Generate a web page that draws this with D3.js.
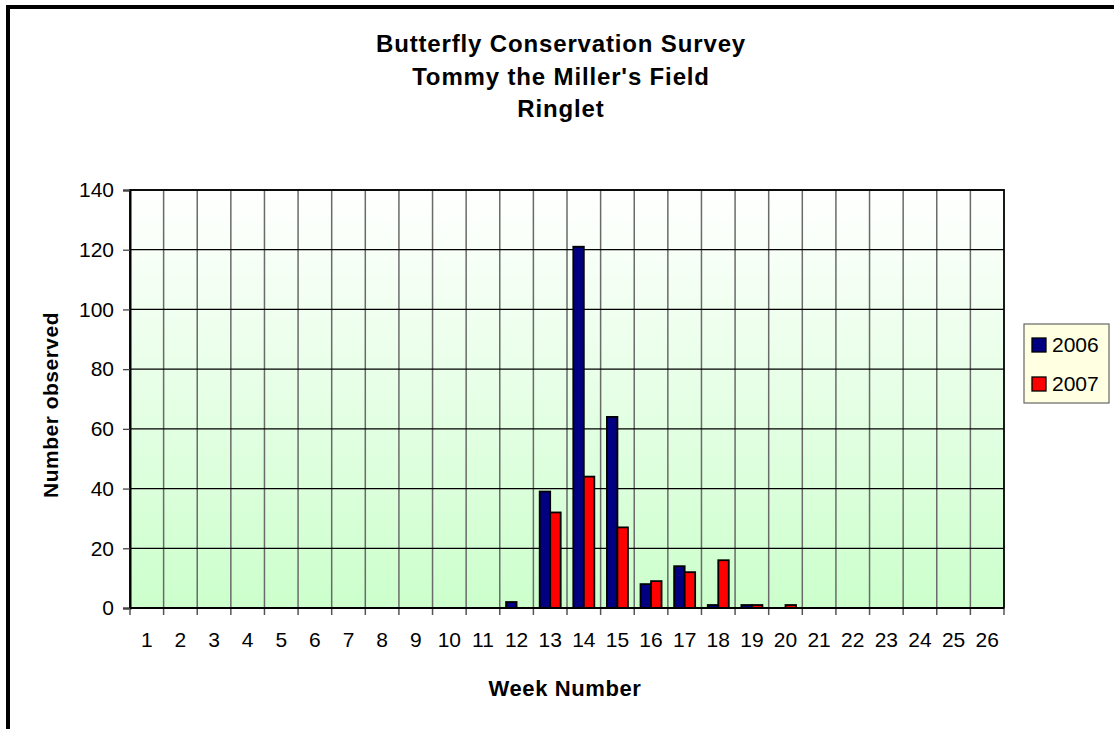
<!DOCTYPE html>
<html>
<head>
<meta charset="utf-8">
<script src="https://cdn.jsdelivr.net/npm/d3@7"></script>
<style>
  html, body { margin: 0; padding: 0; background: #fff; }
  svg { display: block; }
  text { font-family: "Liberation Sans", Arial, sans-serif; fill: #000; }
</style>
</head>
<body>
<svg id="chart" width="1114" height="729"></svg>
<script>
const titleLines = ["Butterfly Conservation Survey", "Tommy the Miller's Field", "Ringlet"];
const weeks = ["1","2","3","4","5","6","7","8","9","10","11","12","13","14","15","16","17","18","19","20","21","22","23","24","25","26"];
const seriesNames = ["2006", "2007"];
const values2006 = [0,0,0,0,0,0,0,0,0,0,0,2,39,121,64,8,14,1,1,0,0,0,0,0,0,0];
const values2007 = [0,0,0,0,0,0,0,0,0,0,0,0,32,44,27,9,12,16,1,1,0,0,0,0,0,0];
const yTicks = [0,20,40,60,80,100,120,140];
const xTitle = "Week Number";
const yTitle = "Number observed";
const colors = ["#000080", "#FF0000"];

const svg = d3.select("#chart");
const pLeft = 130, pRight = 1004, pTop = 190, pBottom = 608;

// outer chart frame (right/bottom edges fall outside the picture)
svg.append("rect").attr("x", 8).attr("y", 7).attr("width", 1300).attr("height", 900)
  .attr("fill", "#fff").attr("stroke", "#000").attr("stroke-width", 4);

const defs = svg.append("defs");
const grad = defs.append("linearGradient").attr("id", "bg").attr("x1", 0).attr("y1", 0).attr("x2", 0).attr("y2", 1);
grad.append("stop").attr("offset", "0%").attr("stop-color", "#ffffff");
grad.append("stop").attr("offset", "100%").attr("stop-color", "#ccffcc");

const x0 = d3.scaleBand().domain(weeks).range([pLeft, pRight]).paddingInner(0.375).paddingOuter(0.1875);
const x1 = d3.scaleBand().domain(seriesNames).range([0, x0.bandwidth()]);
const y = d3.scaleLinear().domain([0, 140]).range([pBottom, pTop]);
const step = x0.step();

svg.append("rect").attr("x", pLeft).attr("y", pTop).attr("width", pRight - pLeft).attr("height", pBottom - pTop)
  .attr("fill", "url(#bg)");

// vertical gridlines at category boundaries
const bounds = d3.range(weeks.length + 1).map(i => pLeft + i * step);
svg.append("g").selectAll("line").data(bounds.slice(1, -1)).join("line")
  .attr("x1", d => d).attr("x2", d => d).attr("y1", pTop).attr("y2", pBottom)
  .attr("stroke", "#6a6a6a").attr("stroke-width", 1.5);

// horizontal gridlines
svg.append("g").selectAll("line").data(yTicks.slice(1)).join("line")
  .attr("x1", pLeft).attr("x2", pRight).attr("y1", d => y(d)).attr("y2", d => y(d))
  .attr("stroke", "#000").attr("stroke-width", 1.2);

// bars
const data = weeks.map((w, i) => ({ week: w, vals: [values2006[i], values2007[i]] }));
const groups = svg.append("g").selectAll("g").data(data).join("g")
  .attr("transform", d => `translate(${x0(d.week)},0)`);
groups.selectAll("rect").data(d => d.vals.map((v, k) => ({ key: seriesNames[k], v, k })))
  .join("rect")
  .attr("x", d => x1(d.key))
  .attr("y", d => y(d.v))
  .attr("width", x1.bandwidth())
  .attr("height", d => pBottom - y(d.v))
  .attr("fill", d => colors[d.k])
  .attr("stroke", "#000").attr("stroke-width", 1.8);

// plot border
svg.append("rect").attr("x", pLeft).attr("y", pTop).attr("width", pRight - pLeft).attr("height", pBottom - pTop)
  .attr("fill", "none").attr("stroke", "#000").attr("stroke-width", 1.8);

// y axis
const yAxis = d3.axisLeft(y).tickValues(yTicks).tickSize(7).tickPadding(9);
const gy = svg.append("g").attr("transform", `translate(${pLeft},0)`).call(yAxis);
gy.select(".domain").attr("stroke", "#000").attr("stroke-width", 2);
gy.selectAll(".tick line").attr("stroke", "#444").attr("stroke-width", 1.3);
gy.selectAll(".tick text").attr("font-size", 21).attr("font-family", "Liberation Sans, Arial, sans-serif").attr("fill", "#000");

// x axis ticks at boundaries
svg.append("g").selectAll("line").data(bounds).join("line")
  .attr("x1", d => d).attr("x2", d => d).attr("y1", pBottom).attr("y2", pBottom + 7)
  .attr("stroke", "#555").attr("stroke-width", 1.5);
svg.append("line").attr("x1", pLeft).attr("x2", pRight).attr("y1", pBottom).attr("y2", pBottom)
  .attr("stroke", "#000").attr("stroke-width", 2);
svg.append("g").selectAll("text").data(weeks).join("text")
  .attr("x", d => x0(d) + x0.bandwidth() / 2)
  .attr("y", 647)
  .attr("text-anchor", "middle")
  .attr("font-size", 21)
  .text(d => d);

// titles
svg.append("g").selectAll("text").data(titleLines).join("text")
  .attr("x", 561).attr("y", (d, i) => 52 + i * 32.5)
  .attr("text-anchor", "middle").attr("font-size", 24).attr("font-weight", "bold")
  .attr("letter-spacing", 0.85)
  .text(d => d);

svg.append("text").attr("x", 565).attr("y", 696).attr("text-anchor", "middle")
  .attr("font-size", 22).attr("font-weight", "bold").attr("letter-spacing", 0.6).text(xTitle);
svg.append("text").attr("transform", `translate(58,405) rotate(-90)`)
  .attr("text-anchor", "middle").attr("font-size", 21).attr("font-weight", "bold").attr("letter-spacing", 0.5).text(yTitle);

// legend
const lg = svg.append("g");
lg.append("rect").attr("x", 1024).attr("y", 324).attr("width", 85).attr("height", 79)
  .attr("fill", "#ffffe2").attr("stroke", "#666").attr("stroke-width", 1.2);
const items = lg.selectAll("g").data(seriesNames).join("g")
  .attr("transform", (d, i) => `translate(1032,${338 + i * 39})`);
items.append("rect").attr("width", 14).attr("height", 14)
  .attr("fill", (d, i) => colors[i]).attr("stroke", "#000").attr("stroke-width", 1.3);
items.append("text").attr("x", 20).attr("y", 14).attr("font-size", 21).text(d => d);
</script>
</body>
</html>
